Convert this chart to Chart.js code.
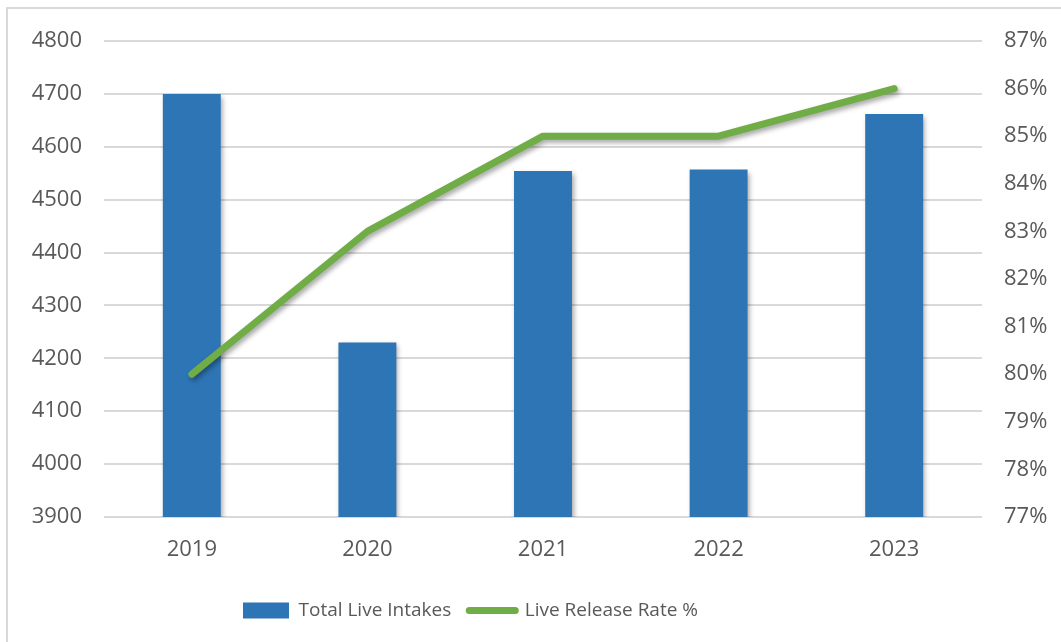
<!DOCTYPE html>
<html>
<head>
<meta charset="utf-8">
<script src="https://cdn.jsdelivr.net/npm/chart.js@4"></script>
<style>
  html, body { margin: 0; padding: 0; background: #fff; overflow: hidden; }
  #frame { position: absolute; left: 6px; top: 7px; width: 1100px; height: 700px;
           border-left: 2px solid #d9d9d9; border-top: 2px solid #d9d9d9; }
  #wrap { position: absolute; left: 0; top: 0; width: 1061px; height: 642px; }
</style>
</head>
<body>
<div id="frame"></div>
<div id="wrap"><canvas id="chart"></canvas></div>
<script>
"use strict";

// categories and values
var years = ["2019", "2020", "2021", "2022", "2023"];
var liveIntakes = [4700, 4230, 4554, 4557, 4662];
var releaseRate = [80, 83, 85, 85, 86];

// axis ranges / tick labels
var intakeTicks = [3900, 4800, 100];
var rateTicks = [77, 87, 1];

var textColor = "#595959";
var gridColor = "#d9d9d9";
var blue = "#2e75b6";
var green = "#70ad47";

// soft drop shadow like the office chart
var shadowPlugin = {
  id: "shadow",
  beforeDatasetDraw: function (chart, args) {
    var c = chart.ctx;
    c.save();
    c.shadowColor = "rgba(0,0,0,0.35)";
    c.shadowBlur = 5;
    c.shadowOffsetX = 2;
    c.shadowOffsetY = 3;
  },
  afterDatasetDraw: function (chart) {
    chart.ctx.restore();
  },
};

// legend in the original sits a bit left of center
var legendShift = {
  id: "legendShift",
  afterLayout: function (chart) {
    chart.legend.right -= 120;
  },
};

var ctx = document.getElementById("chart");

var myChart = new Chart(ctx, {
  data: {
    labels: years,
    datasets: [
      {
        type: "bar",
        label: "Total Live Intakes",
        data: liveIntakes,
        backgroundColor: blue,
        yAxisID: "y",
        barPercentage: 0.33,
        categoryPercentage: 1,
        order: 2,
      },
      {
        type: "line",
        label: "Live Release Rate %",
        data: releaseRate,
        borderColor: green,
        backgroundColor: green,
        borderWidth: 7,
        borderCapStyle: "round",
        borderJoinStyle: "round",
        pointRadius: 0,
        pointHoverRadius: 0,
        tension: 0,
        yAxisID: "y1",
        order: 1,
      },
    ],
  },
  plugins: [shadowPlugin, legendShift],
  options: {
    responsive: true,
    maintainAspectRatio: false,
    animation: false,
    layout: { padding: { top: 41, left: 0, right: 0, bottom: 12 } },
    plugins: {
      tooltip: { enabled: false },
      legend: {
        position: "bottom",
        labels: {
          usePointStyle: true,
          pointStyleWidth: 46,
          boxHeight: 16,
          padding: 18,
          color: textColor,
          font: { family: "'Open Sans'", size: 19 },
          generateLabels: function (chart) {
            return chart.data.datasets.map(function (ds, i) {
              var isLine = ds.type === "line";
              return {
                text: ds.label,
                datasetIndex: i,
                fillStyle: isLine ? "transparent" : blue,
                strokeStyle: isLine ? green : blue,
                lineWidth: isLine ? 7 : 0,
                lineCap: "round",
                pointStyle: isLine ? "line" : "rect",
                fontColor: textColor,
                hidden: false,
              };
            });
          },
        },
      },
    },
    scales: {
      x: {
        grid: { display: false, drawTicks: false },
        border: { display: false },
        ticks: { color: textColor, padding: 20, font: { family: "'Open Sans'", size: 22 } },
        afterFit: function (scale) { scale.height = 66; },
      },
      y: {
        position: "left",
        min: intakeTicks[0],
        max: intakeTicks[1],
        ticks: {
          stepSize: intakeTicks[2],
          color: textColor,
          padding: 22,
          font: { family: "'Open Sans'", size: 22 },
          callback: function (v) { return String(v); },
        },
        grid: { color: gridColor, lineWidth: 2, drawTicks: false },
        border: { display: false },
        afterFit: function (scale) { scale.width = 104; },
      },
      y1: {
        position: "right",
        min: rateTicks[0],
        max: rateTicks[1],
        ticks: {
          stepSize: rateTicks[2],
          color: textColor,
          padding: 22,
          font: { family: "'Open Sans'", size: 22 },
          callback: function (v) { return v + "%"; },
        },
        grid: { display: false, drawTicks: false },
        border: { display: false },
        afterFit: function (scale) { scale.width = 79; },
      },
    },
  },
});
</script>
</body>
</html>
